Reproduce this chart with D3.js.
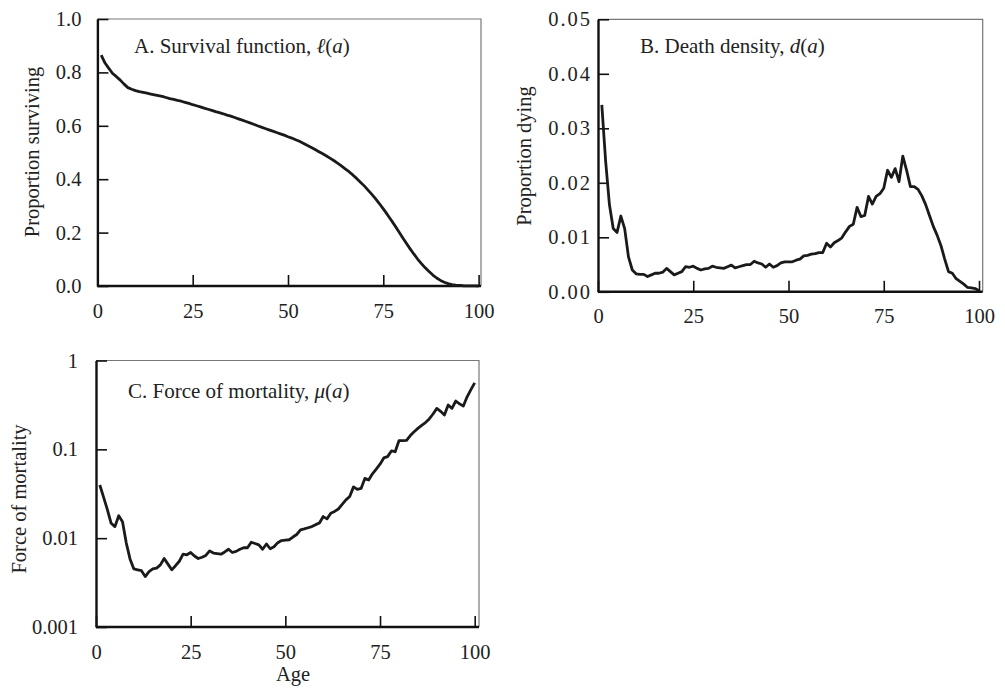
<!DOCTYPE html>
<html>
<head>
<meta charset="utf-8">
<script src="https://cdn.jsdelivr.net/npm/d3@7/dist/d3.min.js"></script>
<style>
  html, body { margin: 0; padding: 0; background: #fff; }
  svg text { font-family: "Liberation Serif", "Times New Roman", serif; fill: #222; }
</style>
</head>
<body>
<svg id="chart" width="1005" height="691"></svg>
<script>
// Ages 1..100
const ages = d3.range(1, 101);

// A. Survival function l(a)
const survival = [
  0.865, 0.835, 0.815, 0.796, 0.784, 0.771, 0.756, 0.743, 0.737, 0.732,
  0.728, 0.725, 0.722, 0.719, 0.716, 0.713, 0.710, 0.706, 0.702, 0.699,
  0.695, 0.692, 0.688, 0.684, 0.679, 0.675, 0.671, 0.666, 0.662, 0.658,
  0.653, 0.649, 0.645, 0.640, 0.636, 0.631, 0.626, 0.621, 0.616, 0.611,
  0.606, 0.600, 0.595, 0.590, 0.585, 0.580, 0.575, 0.570, 0.565, 0.559,
  0.554, 0.548, 0.542, 0.535, 0.527, 0.520, 0.512, 0.504, 0.496, 0.488,
  0.479, 0.470, 0.460, 0.450, 0.439, 0.428, 0.416, 0.403, 0.389, 0.375,
  0.359, 0.343, 0.326, 0.308, 0.289, 0.269, 0.248, 0.227, 0.205, 0.183,
  0.161, 0.140, 0.120, 0.101, 0.084, 0.068, 0.054, 0.041, 0.030, 0.021,
  0.014, 0.009, 0.005, 0.003, 0.002, 0.001, 0.0006, 0.0003, 0.0001, 0.0
];

// B. Death density d(a)
const deathDensity = [
  0.0343, 0.0240, 0.0160, 0.0116, 0.0109, 0.0139, 0.0116, 0.0064, 0.0040, 0.0033,
  0.0032, 0.0032, 0.0028, 0.0031, 0.0034, 0.0034, 0.0036, 0.0043, 0.0037, 0.0031,
  0.0034, 0.0037, 0.0046, 0.0045, 0.0047, 0.0043, 0.0040, 0.0042, 0.0043, 0.0047,
  0.0045, 0.0044, 0.0043, 0.0046, 0.0049, 0.0044, 0.0046, 0.0048, 0.0050, 0.0050,
  0.0056, 0.0053, 0.0051, 0.0045, 0.0051, 0.0045, 0.0048, 0.0053, 0.0055, 0.0055,
  0.0055, 0.0058, 0.0060, 0.0066, 0.0067, 0.0069, 0.0070, 0.0072, 0.0072, 0.0089,
  0.0082, 0.0090, 0.0094, 0.0099, 0.0110, 0.0120, 0.0124, 0.0155, 0.0138, 0.0140,
  0.0175, 0.0161, 0.0175, 0.0180, 0.0190, 0.0223, 0.0210, 0.0226, 0.0202, 0.0249,
  0.0223, 0.0193, 0.0193, 0.0188, 0.0176, 0.0160, 0.0140, 0.0120, 0.0104, 0.0085,
  0.0060, 0.0037, 0.0034, 0.0024, 0.0019, 0.0014, 0.0008, 0.0007, 0.0006, 0.0002
];

// C. Force of mortality mu(a)
const mortality = [
  0.0397, 0.0290, 0.0210, 0.0147, 0.0135, 0.0179, 0.0153, 0.0088, 0.0058, 0.0045,
  0.0044, 0.0043, 0.0037, 0.0042, 0.0045, 0.0046, 0.0050, 0.0059, 0.0051, 0.0044,
  0.0049, 0.0055, 0.0066, 0.0065, 0.0069, 0.0063, 0.0059, 0.0061, 0.0064, 0.0072,
  0.0068, 0.0067, 0.0066, 0.0070, 0.0075, 0.0069, 0.0071, 0.0075, 0.0078, 0.0078,
  0.0090, 0.0087, 0.0084, 0.0075, 0.0086, 0.0076, 0.0080, 0.0089, 0.0094, 0.0095,
  0.0096, 0.0103, 0.0110, 0.0124, 0.0127, 0.0131, 0.0135, 0.0142, 0.0148, 0.0175,
  0.0165, 0.0191, 0.0200, 0.0213, 0.0240, 0.0270, 0.0295, 0.0378, 0.0354, 0.0363,
  0.0471, 0.0451, 0.0530, 0.0600, 0.0680, 0.0800, 0.0828, 0.0958, 0.0940, 0.125,
  0.125, 0.126, 0.143, 0.158, 0.172, 0.186, 0.200, 0.220, 0.250, 0.289,
  0.268, 0.244, 0.315, 0.289, 0.350, 0.325, 0.307, 0.390, 0.470, 0.560
];

const ageTicks = [0, 25, 50, 75, 100];
const survivalTicks = [0, 0.2, 0.4, 0.6, 0.8, 1.0];
const densityTicks = [0, 0.01, 0.02, 0.03, 0.04, 0.05];
const mortalityTicks = [0.001, 0.01, 0.1, 1];
const mortalityTickLabels = ["0.001", "0.01", "0.1", "1"];

const svg = d3.select("#chart");
const FS = 20.5;
const TITLE_FS = 21;

function panel(opt) {
  const g = svg.append("g");
  const x = d3.scaleLinear().domain([0, 100]).range([opt.x0, opt.x100]);
  const y = opt.yScale;
  const top = opt.top, bottom = opt.bottom, left = opt.x0, right = opt.right;

  // thin top and right borders
  g.append("path")
    .attr("d", `M${left},${top}H${right}V${bottom}`)
    .attr("fill", "none").attr("stroke", "#777").attr("stroke-width", 1.2);

  // y axis (ticks point inward)
  const yAxis = d3.axisLeft(y).tickValues(opt.yTicks).tickFormat(opt.yFormat)
    .tickSizeInner(-11).tickSizeOuter(0).tickPadding(opt.yPad);
  const ya = g.append("g").attr("transform", `translate(${left},0)`).call(yAxis);
  ya.select(".domain").attr("stroke", "#111").attr("stroke-width", 2.4);
  ya.selectAll(".tick line").attr("stroke", "#111").attr("stroke-width", 1.6);
  ya.selectAll(".tick text").attr("font-size", FS).attr("fill", "#222")
    .style("font-family", '"Liberation Serif", serif')
    .style("letter-spacing", opt.yLetter ? opt.yLetter + "px" : null);

  // x axis
  const xAxis = d3.axisBottom(x).tickValues(ageTicks).tickFormat(d3.format("d"))
    .tickSizeInner(-11).tickSizeOuter(0).tickPadding(17);
  const xa = g.append("g").attr("transform", `translate(0,${bottom})`).call(xAxis);
  xa.select(".domain").attr("d", `M${left},0H${right}`)
    .attr("stroke", "#111").attr("stroke-width", 2.4);
  xa.selectAll(".tick line").attr("stroke", "#111").attr("stroke-width", 1.6);
  xa.selectAll(".tick text").attr("font-size", FS).attr("fill", "#222")
    .style("font-family", '"Liberation Serif", serif');

  // data line
  const line = d3.line().x((d, i) => x(ages[i])).y(d => y(d));
  g.append("path").datum(opt.values)
    .attr("d", line)
    .attr("fill", "none").attr("stroke", "#1a1a1a")
    .attr("stroke-width", 2.8).attr("stroke-linejoin", "round");

  // y label
  g.append("text")
    .attr("transform", `translate(${opt.yLabelX},${opt.yLabelY}) rotate(-90)`)
    .attr("text-anchor", "middle").attr("font-size", FS)
    .text(opt.yLabel);

  // title
  const t = g.append("text").attr("x", opt.titleX).attr("y", opt.titleY).attr("font-size", TITLE_FS);
  t.append("tspan").text(opt.titlePrefix);
  t.append("tspan").attr("font-style", "italic").text(opt.titleSym);
  t.append("tspan").text("(");
  t.append("tspan").attr("font-style", "italic").text("a");
  t.append("tspan").text(")");
  return g;
}

panel({
  x0: 97.4, x100: 478.6, right: 481, top: 19, bottom: 286,
  yScale: d3.scaleLinear().domain([0, 1]).range([286, 19]),
  yTicks: survivalTicks, yFormat: d3.format(".1f"), yPad: 16,
  values: survival,
  yLabel: "Proportion surviving", yLabelX: 39, yLabelY: 152,
  titleX: 134, titleY: 53, titlePrefix: "A. Survival function, ", titleSym: "\u2113"
});

panel({
  x0: 598, x100: 979, right: 982.7, top: 19.3, bottom: 291.8,
  yScale: d3.scaleLinear().domain([0, 0.05]).range([291.8, 19.3]),
  yTicks: densityTicks, yFormat: d3.format(".2f"), yPad: 6, yLetter: 2,
  values: deathDensity,
  yLabel: "Proportion dying", yLabelX: 531, yLabelY: 156,
  titleX: 640, titleY: 53, titlePrefix: "B. Death density, ", titleSym: "d"
});

panel({
  x0: 96, x100: 474.7, right: 479, top: 360.5, bottom: 627,
  yScale: d3.scaleLog().domain([0.001, 1]).range([627, 360.5]),
  yTicks: mortalityTicks, yFormat: (d, i) => mortalityTickLabels[i], yPad: 18,
  values: mortality,
  yLabel: "Force of mortality", yLabelX: 26, yLabelY: 499,
  titleX: 128, titleY: 398, titlePrefix: "C. Force of mortality, ", titleSym: "\u03bc"
});

svg.append("text").attr("x", 293).attr("y", 681)
  .attr("text-anchor", "middle").attr("font-size", FS).text("Age");
</script>
</body>
</html>
